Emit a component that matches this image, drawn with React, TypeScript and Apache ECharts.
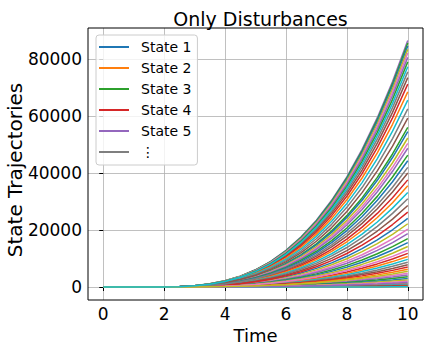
import React, { useEffect, useRef } from "react";
import * as echarts from "echarts";

// time grid (x values)
const TIME = [0, 0.5, 1, 1.5, 2, 2.5, 3, 3.5, 4, 4.5, 5, 5.5, 6, 6.5, 7, 7.5, 8, 8.5, 9, 9.5, 10];
// normalised trajectory shape (fraction of final value)
const PROFILE = [0, 0, 0, 0, 0.0002, 0.0016, 0.0055, 0.013, 0.0254, 0.044, 0.0698, 0.1042, 0.1484, 0.2035, 0.2709, 0.3517, 0.4472, 0.5585, 0.687, 0.8337, 1];
// value of each state at time 10
const FINAL_VALUES = [
  24100, 1250, 56000, 11800, 86500, 40000, 4800, 75500, 22200, 950,
  54500, 10700, 85600, 37600, 4200, 73500, 20300, 700, 52300, 9700,
  84600, 35500, 3600, 71200, 18700, 480, 50400, 8700, 83400, 33200,
  3000, 68500, 17000, 300, 48700, 7800, 82100, 31000, 2500, 65600,
  15600, 160, 46300, 7000, 80600, 28600, 2000, 62500, 14200, 60,
  44300, 6200, 79000, 26300, 1600, 59300, 12900, 42000, 5500, 77300,
];
const X_TICKS = [0, 2, 4, 6, 8, 10];
const Y_TICKS = [0, 20000, 40000, 60000, 80000];
const LEGEND_NAMES = ["State 1", "State 2", "State 3", "State 4", "State 5", "⋮"];
const TAB10 = ["#1f77b4", "#ff7f0e", "#2ca02c", "#d62728", "#9467bd", "#8c564b", "#e377c2", "#7f7f7f", "#bcbd22", "#17becf"];

const FONT = "DejaVu Sans";

export default function App() {
  const ref = useRef<HTMLDivElement>(null);
  useEffect(() => {
    if (!ref.current) return;
    const chart = echarts.init(ref.current, undefined, { renderer: "svg" });
    const series: any[] = FINAL_VALUES.map((v, i) => ({
      type: "line",
      name: `State ${i + 1}`,
      data: TIME.map((t, j) => [t, PROFILE[j] * v]),
      symbol: "none",
      showSymbol: false,
      color: TAB10[i % 10],
      lineStyle: { width: 1.5 },
      silent: true,
    }));
    series.push({
      type: "line",
      name: "⋮",
      data: [],
      symbol: "none",
      color: "#7f7f7f",
    });
    chart.setOption({
      animation: false,
      color: TAB10,
      title: {
        text: "Only Disturbances",
        left: 255.5,
        textAlign: "center",
        top: 4,
        textStyle: { fontFamily: FONT, fontSize: 19, fontWeight: "normal", color: "#000" },
      },
      graphic: [
        {
          type: "text",
          x: 15,
          y: 170,
          rotation: Math.PI / 2,
          silent: true,
          style: {
            text: "State Trajectories",
            fontFamily: FONT,
            fontSize: 20,
            fill: "#000",
            textAlign: "center",
            textVerticalAlign: "middle",
          },
        },
      ],
      grid: {
        left: 88,
        right: 6,
        top: 28,
        bottom: 52,
        containLabel: false,
        outerBoundsMode: "none",
        show: true,
        z: 10,
        borderColor: "#000",
        borderWidth: 1,
        backgroundColor: "transparent",
      },
      legend: {
        data: LEGEND_NAMES,
        orient: "vertical",
        left: 96,
        top: 35,
        icon: "rect",
        itemWidth: 30,
        itemHeight: 2,
        itemGap: 5,
        padding: [4, 6, 5, 3],
        selectedMode: false,
        backgroundColor: "rgba(255,255,255,0.8)",
        borderColor: "#cccccc",
        borderWidth: 1,
        borderRadius: 3,
        textStyle: { fontFamily: FONT, fontSize: 14, color: "#000", lineHeight: 16, padding: [0, 0, 0, 7] },
      },
      xAxis: {
        type: "value",
        min: -0.5,
        max: 10.5,
        name: "Time",
        nameLocation: "middle",
        nameGap: 24,
        nameTextStyle: { fontFamily: FONT, fontSize: 18, color: "#000" },
        axisLine: { show: false },
        axisTick: { show: true, length: 4, customValues: X_TICKS, lineStyle: { color: "#000" } },
        axisLabel: {
          customValues: X_TICKS,
          margin: 5,
          fontFamily: FONT,
          fontSize: 17,
          color: "#000",
          formatter: (v: number) => String(v),
        },
        splitLine: { show: true, lineStyle: { color: "#b0b0b0", width: 0.8 } },
      },
      yAxis: {
        type: "value",
        min: -4560,
        max: 90900,
        axisLine: { show: false },
        axisTick: { show: true, length: 4, customValues: Y_TICKS, lineStyle: { color: "#000" } },
        axisLabel: {
          customValues: Y_TICKS,
          margin: 6,
          fontFamily: FONT,
          fontSize: 17,
          color: "#000",
          formatter: (v: number) => String(v),
        },
        splitLine: { show: true, lineStyle: { color: "#b0b0b0", width: 0.8 } },
      },
      series,
    });
    return () => chart.dispose();
  }, []);
  return <div ref={ref} style={{ width: 429, height: 352, position: "absolute", left: 0, top: 0, background: "#fff" }} />;
}
